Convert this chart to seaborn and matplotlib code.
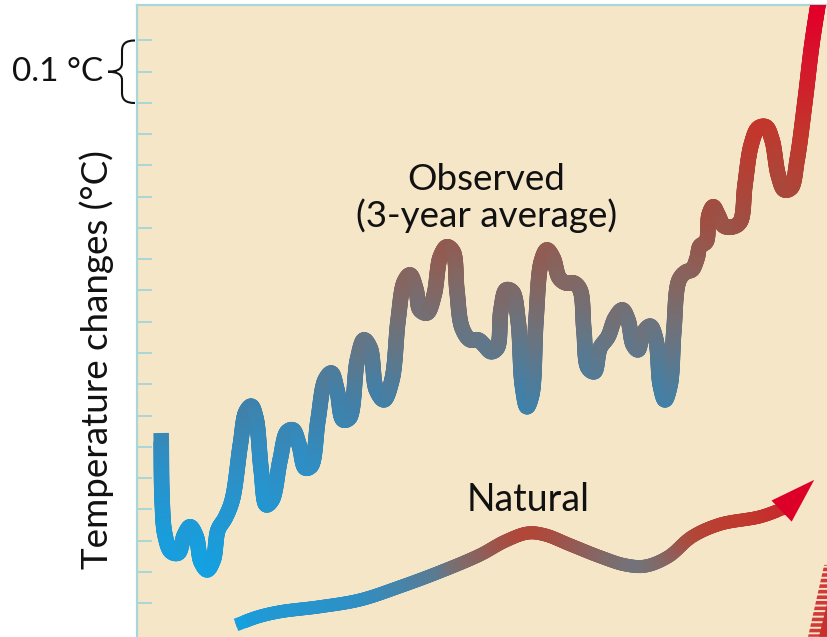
import numpy as np
import matplotlib
matplotlib.use("Agg")
import matplotlib.pyplot as plt
import matplotlib.transforms as mtransforms
from matplotlib.collections import LineCollection
from matplotlib.colors import LinearSegmentedColormap, Normalize
from matplotlib.path import Path
from matplotlib.patches import PathPatch, Polygon
import seaborn as sns

# Observed global temperature change (3-year average), degrees C
obs_year = [1860.0, 1860.2, 1860.8, 1862.1, 1863.6, 1864.9, 1866.1, 1867.4, 1868.4, 1869.7,
            1871.0, 1872.0, 1873.5, 1875.0, 1876.7, 1877.9, 1879.0, 1880.0, 1881.1, 1882.2,
            1883.4, 1885.1, 1886.6, 1887.8, 1889.1, 1890.4, 1891.6, 1893.1, 1894.6, 1895.9,
            1897.1, 1898.4, 1899.7, 1901.4, 1902.8, 1904.1, 1905.4, 1907.0, 1908.7, 1910.0,
            1911.3, 1912.5, 1913.8, 1914.6, 1916.1, 1917.6, 1918.9, 1920.3, 1921.6, 1922.4,
            1923.5, 1925.2, 1926.9, 1928.1, 1929.6, 1930.9, 1931.7, 1932.8, 1934.1, 1935.3,
            1936.2, 1937.2, 1938.2, 1939.1, 1940.2, 1941.4, 1942.7, 1944.0, 1945.4, 1947.1,
            1948.4, 1949.2, 1950.1, 1951.4, 1952.6, 1954.3, 1955.8, 1957.3, 1958.5, 1959.6,
            1960.6, 1961.7, 1963.2, 1964.4, 1965.3, 1966.3, 1967.4, 1968.2, 1969.3, 1970.8,
            1972.0, 1973.1, 1973.7, 1975.0, 1975.6, 1976.5, 1977.5, 1978.8, 1980.7, 1982.2,
            1983.2, 1984.5, 1986.0, 1987.6, 1988.9, 1990.2, 1991.5, 1992.9, 1994.2, 1995.9,
            1997.3, 1998.6, 1999.5]
obs_temp = [0.272, 0.165, 0.109, 0.082, 0.080, 0.109, 0.122, 0.106, 0.066, 0.053,
            0.069, 0.117, 0.136, 0.165, 0.253, 0.306, 0.315, 0.296, 0.213, 0.157,
            0.165, 0.229, 0.274, 0.277, 0.253, 0.216, 0.219, 0.293, 0.357, 0.368,
            0.341, 0.293, 0.296, 0.389, 0.421, 0.408, 0.341, 0.325, 0.357, 0.453,
            0.514, 0.525, 0.501, 0.469, 0.464, 0.493, 0.554, 0.570, 0.562, 0.501,
            0.440, 0.421, 0.421, 0.413, 0.402, 0.408, 0.469, 0.501, 0.498, 0.453,
            0.349, 0.314, 0.333, 0.453, 0.546, 0.565, 0.552, 0.520, 0.512, 0.512,
            0.501, 0.437, 0.376, 0.370, 0.408, 0.426, 0.456, 0.469, 0.453, 0.413,
            0.405, 0.432, 0.443, 0.421, 0.349, 0.325, 0.349, 0.437, 0.517, 0.530,
            0.533, 0.552, 0.571, 0.578, 0.621, 0.634, 0.621, 0.603, 0.602, 0.610,
            0.669, 0.733, 0.760, 0.762, 0.741, 0.685, 0.661, 0.664, 0.709, 0.805,
            0.893, 0.957, 0.997]

# Natural forcing only (model), last point is the arrow tip
nat_year = [1875.8, 1880.5, 1885.1, 1893.5, 1902.0, 1910.4, 1918.9, 1927.3, 1932.6, 1937.4,
            1941.0, 1946.3, 1952.6, 1957.9, 1962.1, 1967.0, 1972.0, 1977.9, 1986.4, 1991.6,
            1997.8]
nat_temp = [-0.035, -0.022, -0.014, -0.006, 0.005, 0.026, 0.050, 0.077, 0.099, 0.112,
            0.109, 0.093, 0.074, 0.061, 0.059, 0.074, 0.106, 0.126, 0.138, 0.152,
            0.197]

# Start of a further (hatched) forcing arrow entering at the lower right
hatch_year = [1996.5, 1999.9, 2000.7, 2000.7]
hatch_temp = [-0.054, 0.061, 0.061, -0.054]
solid_year = [1998.8, 2000.7, 2000.7]
solid_temp = [-0.054, 0.005, -0.054]

tick_values = [round(0.05 * i, 2) for i in range(19)]

BG = "#F5E6C8"
SPINE = "#A9D6D8"
RED = "#DC0029"
INK = "#111111"

sns.set_theme(style="white")
plt.rcParams["font.family"] = ["Lato", "DejaVu Sans"]
plt.rcParams["hatch.linewidth"] = 2.6

W, H = 827, 637
fig = plt.figure(figsize=(W / 100, H / 100), dpi=100)
fig.patch.set_facecolor("white")
ax = fig.add_axes([137 / W, 0, 690 / W, 632 / H])
ax.set_facecolor(BG)

obs_cmap = LinearSegmentedColormap.from_list(
    "obs", [(0.00, "#14A1E2"), (0.18, "#2E8FC6"), (0.30, "#4180A8"),
            (0.42, "#6A7480"), (0.52, "#86655F"), (0.63, "#A04E42"),
            (0.78, "#C2372C"), (1.0, "#E2002A")])
obs_norm = Normalize(0.053, 0.957)
nat_cmap = LinearSegmentedColormap.from_list(
    "nat", [(0.0, "#14A1E2"), (0.17, "#2F8FC4"), (0.37, "#5C7A92"), (0.41, "#787073"),
            (0.63, "#B0483A"), (0.73, "#C0392E"), (1.0, "#DC0029")])
nat_norm = Normalize(-0.035, 0.197)

# base strokes with seaborn (covered by the coloured strokes below)
sns.lineplot(x=obs_year, y=obs_temp, ax=ax, sort=False, estimator=None,
             color="#6A7480", lw=4, solid_capstyle="butt", zorder=2)
sns.lineplot(x=nat_year[:-1], y=nat_temp[:-1], ax=ax, sort=False, estimator=None,
             color="#787073", lw=4, solid_capstyle="butt", zorder=2)

ax.set_xlim(1854.9, 2000.5)
ax.set_ylim(-0.0544, 0.9568)


def smooth_display(P, step=1.2):
    """Centripetal Catmull-Rom curve through display points P."""
    P = np.asarray(P, float)
    ext = np.vstack([2 * P[0] - P[1], P, 2 * P[-1] - P[-2]])
    out = []
    for i in range(1, len(ext) - 2):
        p0, p1, p2, p3 = ext[i - 1], ext[i], ext[i + 1], ext[i + 2]
        t0 = 0.0
        t1 = t0 + max(np.hypot(*(p1 - p0)), 1e-6) ** 0.5
        t2 = t1 + max(np.hypot(*(p2 - p1)), 1e-6) ** 0.5
        t3 = t2 + max(np.hypot(*(p3 - p2)), 1e-6) ** 0.5
        n = max(2, int(np.ceil(np.hypot(*(p2 - p1)) / step)))
        t = np.linspace(t1, t2, n + 1)[:-1][:, None]
        a1 = (t1 - t) / (t1 - t0) * p0 + (t - t0) / (t1 - t0) * p1
        a2 = (t2 - t) / (t2 - t1) * p1 + (t - t1) / (t2 - t1) * p2
        a3 = (t3 - t) / (t3 - t2) * p2 + (t - t2) / (t3 - t2) * p3
        b1 = (t2 - t) / (t2 - t0) * a1 + (t - t0) / (t2 - t0) * a2
        b2 = (t3 - t) / (t3 - t1) * a2 + (t - t1) / (t3 - t1) * a3
        out.append((t2 - t) / (t2 - t1) * b1 + (t - t1) / (t2 - t1) * b2)
    out.append(P[-1:])
    return np.vstack(out)


def gradient_stroke(ax, xs, ys, cmap, norm, lw_px, end_px=9.0):
    """Overlay a smooth stroke whose colour follows its height, with flat ends."""
    dense = smooth_display(ax.transData.transform(np.column_stack([xs, ys])))
    arc = np.r_[0.0, np.cumsum(np.hypot(*np.diff(dense, axis=0).T))]
    total = arc[-1]
    dd = ax.transData.inverted().transform(dense)
    segs = np.stack([dd[:-1], dd[1:]], axis=1)
    cols = cmap(norm(0.5 * (dd[:-1, 1] + dd[1:, 1])))
    lw = lw_px * 72 / fig.dpi
    inner = (arc[:-1] >= end_px) & (arc[1:] <= total - end_px)
    ax.add_collection(LineCollection(segs[inner], colors=cols[inner], linewidths=lw,
                                     capstyle="round", joinstyle="round", zorder=3))
    for mask in (arc[1:] <= end_px + 2.5, arc[:-1] >= total - end_px - 2.5):
        idx = np.where(mask)[0]
        if len(idx) == 0:
            continue
        pts = np.vstack([segs[idx[0], 0], segs[idx, 1]])
        ax.plot(pts[:, 0], pts[:, 1], color=cols[idx].mean(axis=0), lw=lw,
                solid_capstyle="butt", solid_joinstyle="round", zorder=3)


gradient_stroke(ax, obs_year, obs_temp, obs_cmap, obs_norm, 15.5)
gradient_stroke(ax, nat_year[:-1], nat_temp[:-1], nat_cmap, nat_norm, 13)

# arrow head of the natural curve
ax.annotate("", xy=(nat_year[-1], nat_temp[-1]), xytext=(nat_year[-2], nat_temp[-2]),
            arrowprops=dict(arrowstyle="-|>,head_length=1.3,head_width=0.42",
                            color=RED, lw=0, shrinkA=0, shrinkB=0, mutation_scale=25),
            zorder=4)

# hatched wedge at the lower right
ax.add_patch(Polygon(np.column_stack([hatch_year, hatch_temp]), closed=True,
                     facecolor="none", edgecolor="#D23A3A", lw=0, hatch="---", zorder=3))
ax.add_patch(Polygon(np.column_stack([solid_year, solid_temp]), closed=True,
                     facecolor="#C8302C", edgecolor="none", zorder=4))

# axes styling
ax.set_xticks([])
ax.set_yticks(tick_values)
ax.tick_params(axis="y", direction="in", length=11, width=1.4, color=SPINE,
               left=True, labelleft=False)
for side in ("right", "bottom"):
    ax.spines[side].set_visible(False)
for side in ("left", "top"):
    ax.spines[side].set_color(SPINE)
    ax.spines[side].set_linewidth(1.6)
ax.set_ylabel("")
ax.set_xlabel("")

# brace marking 0.1 degC between two ticks
bt = mtransforms.blended_transform_factory(ax.transAxes, ax.transData)
hi, lo = tick_values[-1], tick_values[-3]
mid = 0.5 * (hi + lo)
fx = lambda px: (px - 137) / 690
s = (hi - lo) / 61.0
brace = Path(
    [(fx(135), hi), (fx(126), hi), (fx(122), hi - 3 * s), (fx(122), hi - 10 * s),
     (fx(122), mid + 8 * s),
     (fx(122), mid + 2 * s), (fx(116), mid), (fx(108), mid),
     (fx(116), mid), (fx(122), mid - 2 * s), (fx(122), mid - 8 * s),
     (fx(122), lo + 10 * s),
     (fx(122), lo + 3 * s), (fx(126), lo), (fx(135), lo)],
    [Path.MOVETO, Path.CURVE4, Path.CURVE4, Path.CURVE4,
     Path.LINETO,
     Path.CURVE4, Path.CURVE4, Path.CURVE4,
     Path.CURVE4, Path.CURVE4, Path.CURVE4,
     Path.LINETO,
     Path.CURVE4, Path.CURVE4, Path.CURVE4])
ax.add_patch(PathPatch(brace, transform=bt, facecolor="none", edgecolor=INK,
                       lw=1.5, clip_on=False))
ax.text(fx(103), mid, "0.1 °C", transform=bt, ha="right", va="center",
        fontsize=24, color=INK, clip_on=False)

fig.text(97 / W, 1 - 360 / H, "Temperature changes (°C)", rotation=90,
         ha="center", va="center", fontsize=26.5, color=INK)

ax.text(1928.6, 0.648, "Observed\n(3-year average)", ha="center", va="center",
        fontsize=26.5, color=INK, linespacing=1.05)
ax.text(1937.4, 0.165, "Natural", ha="center", va="center",
        fontsize=27, color=INK)

fig.savefig("out.png", dpi=100, facecolor="white")
